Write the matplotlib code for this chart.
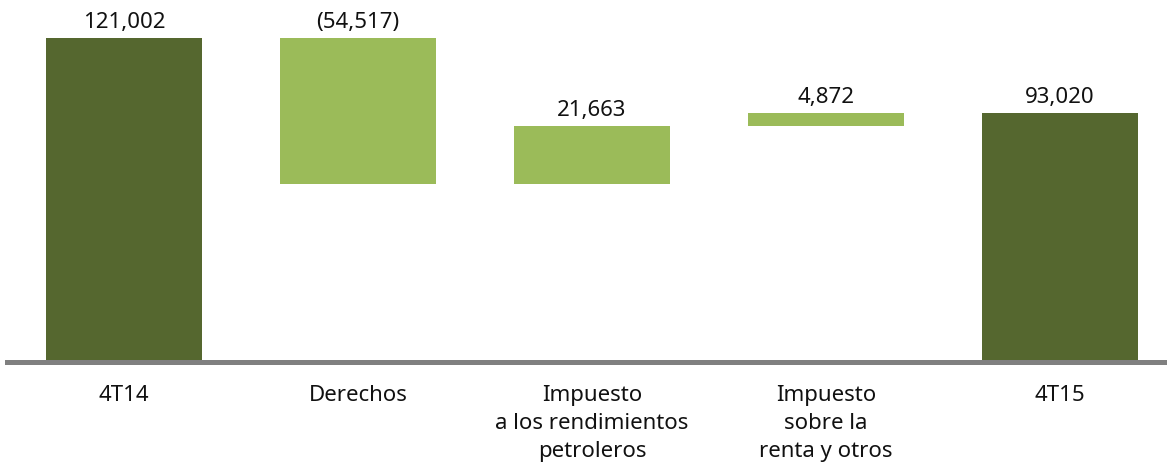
import matplotlib
matplotlib.use("Agg")
import matplotlib.pyplot as plt

plt.rcParams['font.family'] = ['Noto Sans', 'DejaVu Sans']

categories = ["4T14", "Derechos", "Impuesto\na los rendimientos\npetroleros",
              "Impuesto\nsobre la\nrenta y otros", "4T15"]
values = [121002, -54517, 21663, 4872, 93020]
value_labels = ["121,002", "(54,517)", "21,663", "4,872", "93,020"]
is_total = [True, False, False, False, True]

dark = "#55672F"
light = "#9BBB59"

fig = plt.figure(figsize=(11.67, 4.62), dpi=100)
ax = fig.add_axes([7 / 1167, 100 / 462, 1160 / 1167, 362 / 462])

running = 0
bottoms, heights, colors = [], [], []
for v, tot in zip(values, is_total):
    if tot:
        bottoms.append(0)
        heights.append(v)
        running = v
        colors.append(dark)
    else:
        bottoms.append(running if v >= 0 else running + v)
        heights.append(abs(v))
        running += v
        colors.append(light)

x = list(range(len(categories)))
ax.bar(x, heights, bottom=bottoms, width=0.667, color=colors, zorder=2)

for xi, b, h, lab in zip(x, bottoms, heights, value_labels):
    ax.annotate(lab, (xi, b + h), xytext=(0, 7.5), textcoords="offset points",
                ha="center", va="baseline", fontsize=16, color="#111111")

ax.set_xlim(-0.5, 4.457)
ax.set_ylim(0, 135200)
ax.set_yticks([])
ax.set_xticks(x)
ax.set_xticklabels(categories, fontsize=16, color="#111111", linespacing=1.43)
ax.tick_params(axis="x", length=0, pad=16.5)
for s in ["top", "right", "left"]:
    ax.spines[s].set_visible(False)
ax.spines["bottom"].set_color("#808080")
ax.spines["bottom"].set_linewidth(3.6)
ax.spines["bottom"].set_zorder(3)

fig.savefig("out.png", dpi=100)
